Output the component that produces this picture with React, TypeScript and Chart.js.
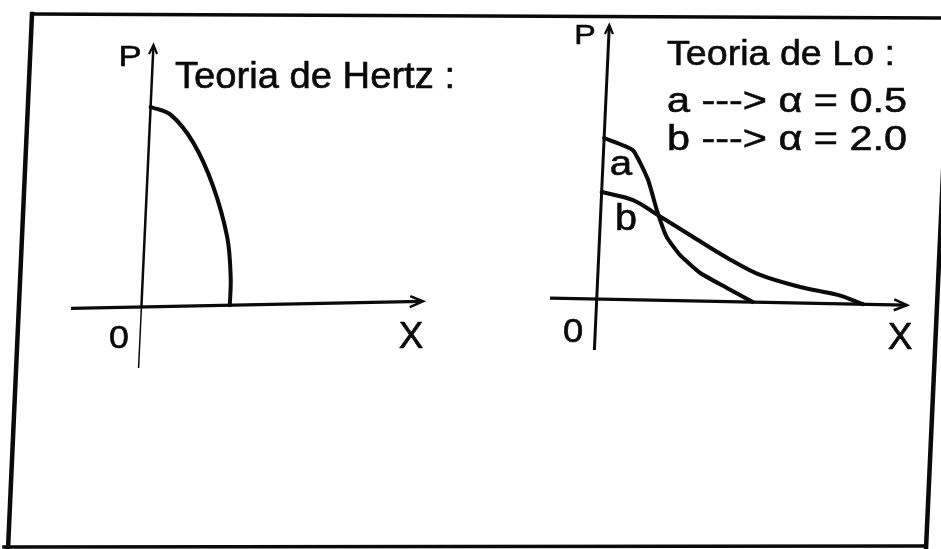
import { useEffect, useRef } from "react";
import { Chart, registerables } from "chart.js";

Chart.register(...registerables);

// Normalised contact pressure P/p0 against normalised distance x/a.
const hertzX = [0, 0.23, 0.5, 0.75, 0.94, 1.0, 1.005];
const hertzP = [1.0, 0.96, 0.82, 0.6, 0.34, 0.14, 0];

// Lo's theory, curve a (alpha = 0.5)
const loAX = [0, 0.33, 0.52, 0.635, 0.76, 0.92, 1.16, 1.47, 1.77];
const loAP = [0.805, 0.748, 0.6, 0.45, 0.317, 0.228, 0.14, 0.068, 0];

// Lo's theory, curve b (alpha = 2.0)
const loBX = [0, 0.36, 0.65, 1.06, 1.46, 1.84, 2.3, 2.73, 3.02];
const loBP = [0.535, 0.498, 0.425, 0.319, 0.218, 0.136, 0.08, 0.044, 0];

const hertzTitle = "Teoria de Hertz :";
const loTitle = "Teoria de Lo :";
const loLegend = ["a ---> \u03b1 = 0.5", "b ---> \u03b1 = 2.0"];
const curveTags = ["a", "b"];
const axisNames = { p: "P", x: "X", origin: "0" };

const W = 941;
const H = 549;
const INK = "#0a0a0a";
const FONT = '"Liberation Sans", Arial, Helvetica, sans-serif';

type Ctx = CanvasRenderingContext2D;

// Draws text with a slight horizontal stretch and a thin outline so the
// glyphs have the heavy, wide look of the printed lettering.
function label(
  ctx: Ctx,
  s: string,
  x: number,
  y: number,
  size: number,
  align: "left" | "center",
  opts: { width?: number; stretch?: number } = {}
) {
  ctx.save();
  ctx.font = `${size}px ${FONT}`;
  ctx.fillStyle = INK;
  ctx.strokeStyle = INK;
  ctx.textBaseline = "alphabetic";
  ctx.textAlign = "left";
  const m = ctx.measureText(s).width;
  const sx = opts.width ? opts.width / m : opts.stretch ?? 1.1;
  const w = m * sx;
  const left = align === "center" ? x - w / 2 : x;
  ctx.translate(left, y);
  ctx.scale(sx, 1);
  ctx.fillText(s, 0, 0);
  ctx.lineWidth = 0.6;
  ctx.lineJoin = "round";
  ctx.strokeText(s, 0, 0);
  ctx.restore();
}

function seg(ctx: Ctx, x1: number, y1: number, x2: number, y2: number, lw: number) {
  ctx.beginPath();
  ctx.lineWidth = lw;
  ctx.moveTo(x1, y1);
  ctx.lineTo(x2, y2);
  ctx.stroke();
}

type PanelOpts = {
  kx: number; // shear of the sheet: x offset per pixel of height
  ky: number; // shear of the sheet: y offset per pixel of width
  yUpperWidth: number;
  yLowerWidth: number;
  xWidth: number;
  xArrow: number;
  yArrow: number;
  labels: (ctx: Ctx) => void;
};

function panelPlugin(o: PanelOpts) {
  return {
    id: "panelAxes",
    beforeDraw(chart: any) {
      const ctx: Ctx = chart.ctx;
      const xs = chart.scales.x;
      const ys = chart.scales.y;
      const ox = xs.getPixelForValue(0);
      const oy = ys.getPixelForValue(0);
      ctx.save();
      ctx.translate(ox, oy);
      ctx.transform(1, o.ky, o.kx, 1, 0, 0);
      ctx.translate(-ox, -oy);

      ctx.strokeStyle = INK;
      ctx.lineCap = "butt";
      ctx.lineJoin = "miter";
      const xl = xs.getPixelForValue(xs.min);
      const xr = xs.getPixelForValue(xs.max);
      const yt = ys.getPixelForValue(ys.max);
      const yb = ys.getPixelForValue(ys.min);

      // X axis with arrow head
      seg(ctx, xl, oy, xr - 1, oy, o.xWidth);
      ctx.beginPath();
      ctx.lineWidth = 2.5;
      ctx.moveTo(xr - o.xArrow, oy - o.xArrow * 0.42);
      ctx.lineTo(xr, oy);
      ctx.lineTo(xr - o.xArrow, oy + o.xArrow * 0.42);
      ctx.stroke();

      // P axis with arrow head
      seg(ctx, ox, oy, ox, yt + 1, o.yUpperWidth);
      seg(ctx, ox, yb, ox, oy, o.yLowerWidth);
      ctx.beginPath();
      ctx.lineWidth = 2.2;
      ctx.moveTo(ox - o.yArrow * 0.45, yt + o.yArrow);
      ctx.lineTo(ox, yt);
      ctx.lineTo(ox + o.yArrow * 0.45, yt + o.yArrow);
      ctx.stroke();
    },
    afterDraw(chart: any) {
      const ctx: Ctx = chart.ctx;
      ctx.restore();
      o.labels(ctx);
    },
  };
}

function frame(ctx: Ctx) {
  ctx.save();
  ctx.strokeStyle = INK;
  ctx.lineCap = "square";
  seg(ctx, 32, 14, 950, 18, 3.5);
  seg(ctx, 32, 14, 8, 549, 4.5);
  seg(ctx, 950, 18, 926, 549, 4.5);
  seg(ctx, 4, 547, 926, 546, 3.5);
  ctx.restore();
}

function curve(xs: number[], ps: number[], width: number, tension: number) {
  return {
    data: xs.map((x, i) => ({ x, y: ps[i] })),
    borderColor: INK,
    borderWidth: width,
    tension,
    fill: false,
    pointRadius: 0,
    clip: false as const,
    borderCapStyle: "round" as const,
    borderJoinStyle: "round" as const,
  };
}

function baseOptions(xMin: number, xMax: number, yMin: number, yMax: number, padding: any) {
  return {
    responsive: false,
    animation: false as const,
    devicePixelRatio: 1,
    events: [] as any[],
    layout: { padding },
    plugins: { legend: { display: false }, tooltip: { enabled: false }, title: { display: false } },
    scales: {
      x: { type: "linear" as const, min: xMin, max: xMax, display: false },
      y: { type: "linear" as const, min: yMin, max: yMax, display: false },
    },
  };
}

export default function App() {
  const leftRef = useRef<HTMLCanvasElement | null>(null);
  const rightRef = useRef<HTMLCanvasElement | null>(null);

  useEffect(() => {
    if (!leftRef.current || !rightRef.current) return;

    const hertz = new Chart(leftRef.current, {
      type: "line",
      data: { datasets: [curve(hertzX, hertzP, 4, 0.35)] },
      options: baseOptions(-0.8, 3.2, -0.305, 1.31, { left: 71, top: 45, right: W - 423, bottom: H - 368 }),
      plugins: [
        panelPlugin({
          kx: -0.046,
          ky: -0.02,
          yUpperWidth: 2.5,
          yLowerWidth: 1.5,
          xWidth: 3.2,
          xArrow: 13,
          yArrow: 9,
          labels: (ctx) => {
            frame(ctx);
            label(ctx, axisNames.p, 130, 66, 30, "center", { stretch: 1.15 });
            label(ctx, hertzTitle, 175, 88, 37, "left", { width: 280 });
            label(ctx, axisNames.origin, 119, 348, 31, "center", { stretch: 1.15 });
            label(ctx, axisNames.x, 411, 348, 37, "center", { stretch: 1.0 });
          },
        }),
      ],
    } as any);

    const lo = new Chart(rightRef.current, {
      type: "line",
      data: {
        datasets: [curve(loAX, loAP, 4, 0.15), curve(loBX, loBP, 4, 0.35)],
      },
      options: baseOptions(-0.53, 3.52, -0.255, 1.37, { left: 550, top: 25, right: W - 907, bottom: H - 350 }),
      plugins: [
        panelPlugin({
          kx: -0.046,
          ky: 0.0196,
          yUpperWidth: 3,
          yLowerWidth: 3,
          xWidth: 3.2,
          xArrow: 13,
          yArrow: 9,
          labels: (ctx) => {
            label(ctx, axisNames.p, 585, 44, 28, "center", { stretch: 1.15 });
            label(ctx, loTitle, 667, 65, 35, "left", { width: 228 });
            label(ctx, loLegend[0], 667, 112, 35, "left", { width: 240 });
            label(ctx, loLegend[1], 667, 150, 35, "left", { width: 240 });
            label(ctx, curveTags[0], 621, 175, 35, "center", { stretch: 1.15 });
            label(ctx, curveTags[1], 626, 230, 36, "center", { stretch: 1.1 });
            label(ctx, axisNames.origin, 573, 342, 33, "center", { stretch: 1.1 });
            label(ctx, axisNames.x, 900, 349, 37, "center", { stretch: 1.0 });
          },
        }),
      ],
    } as any);

    return () => {
      hertz.destroy();
      lo.destroy();
    };
  }, []);

  const canvasStyle: React.CSSProperties = { position: "absolute", left: 0, top: 0, display: "block" };
  return (
    <div style={{ position: "fixed", left: 0, top: 0, width: W, height: H, background: "#fff", overflow: "hidden" }}>
      <canvas ref={leftRef} width={W} height={H} style={canvasStyle} />
      <canvas ref={rightRef} width={W} height={H} style={canvasStyle} />
    </div>
  );
}
